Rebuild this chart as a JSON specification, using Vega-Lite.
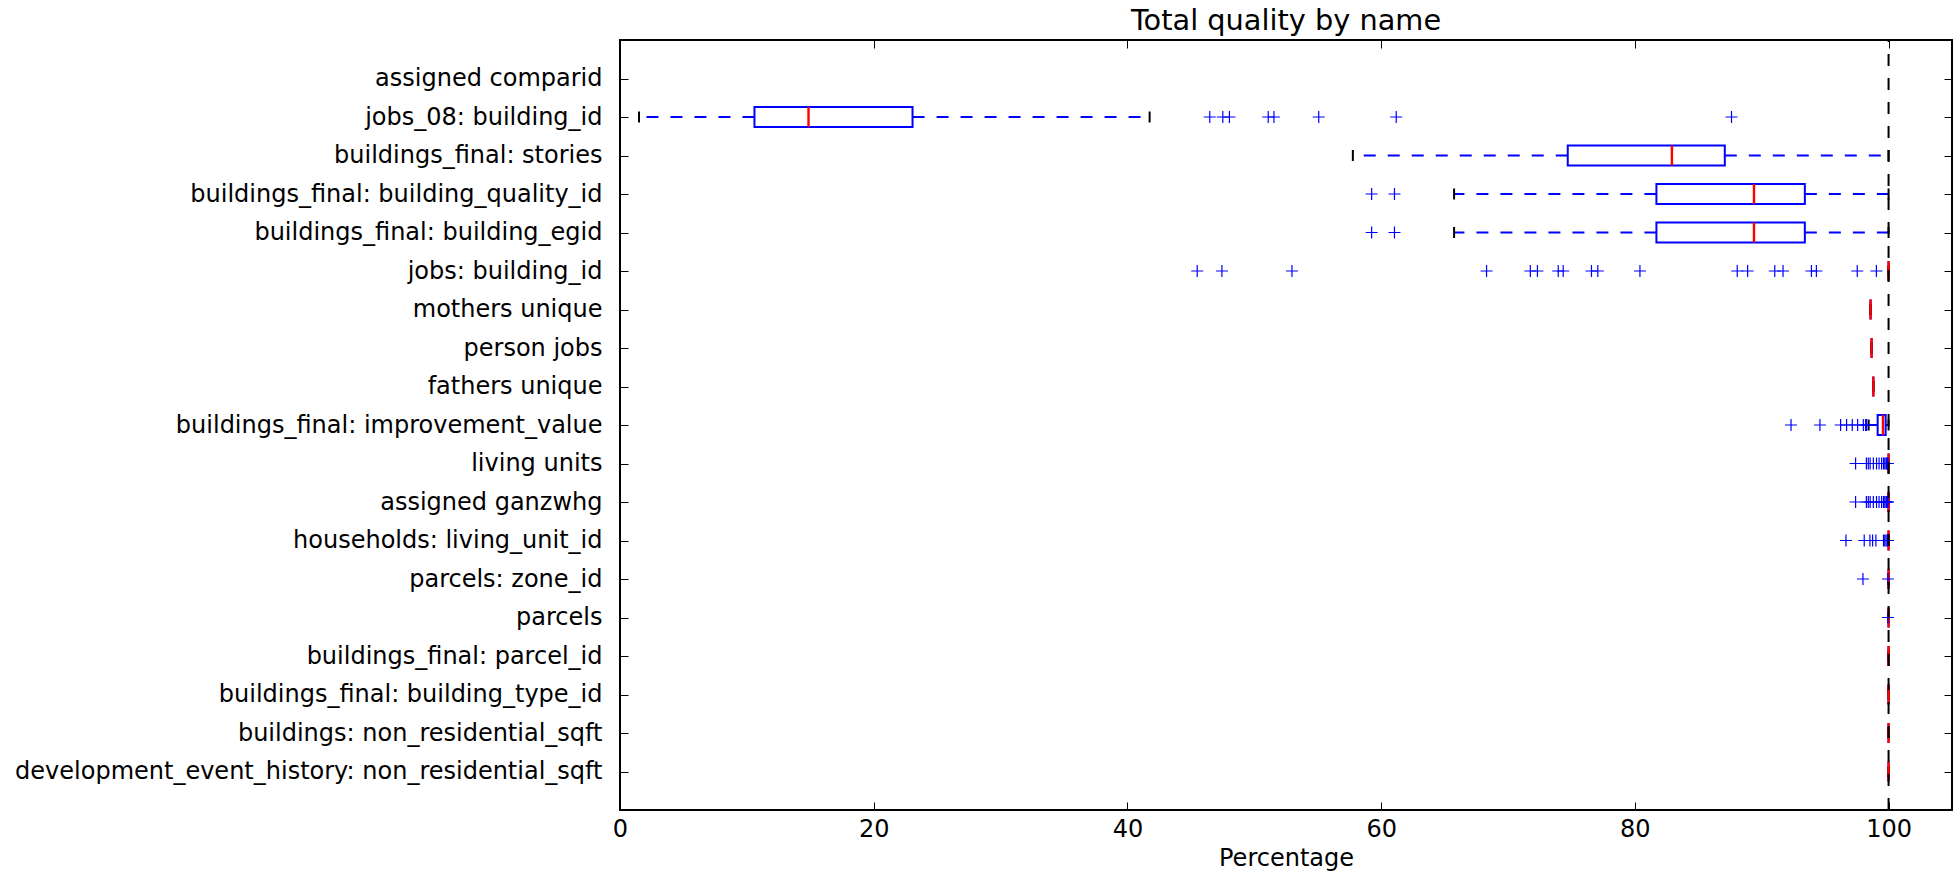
{
  "$schema": "https://vega.github.io/schema/vega-lite/v6.json",
  "width": 1332,
  "height": 770,
  "autosize": {"type": "none"},
  "padding": {"left": 620, "top": 40, "right": 1, "bottom": 62},
  "background": "white",
  "title": {"text": "Total quality by name", "font": "DejaVu Sans", "fontSize": 28.8, "fontWeight": "normal", "color": "black", "frame": "group", "anchor": "middle", "offset": -20, "baseline": "alphabetic"},
  "config": {
    "view": {"stroke": "black", "strokeWidth": 2},
    "axis": {"grid": false, "domain": false, "tickColor": "black", "tickWidth": 1, "labelFont": "DejaVu Sans", "labelFontSize": 24, "labelColor": "black", "titleFont": "DejaVu Sans", "titleFontSize": 24, "titleFontWeight": "normal", "titleColor": "black"}
  },
  "datasets": {
    "boxes": [
      {"name": "jobs_08: building_id", "lower": 1.5, "q1": 10.6, "median": 14.86, "q3": 23.06, "upper": 41.75},
      {"name": "buildings_final: stories", "lower": 57.77, "q1": 74.71, "median": 82.92, "q3": 87.09, "upper": 100},
      {"name": "buildings_final: building_quality_id", "lower": 65.75, "q1": 81.7, "median": 89.39, "q3": 93.4, "upper": 100},
      {"name": "buildings_final: building_egid", "lower": 65.75, "q1": 81.7, "median": 89.39, "q3": 93.4, "upper": 100},
      {"name": "jobs: building_id", "lower": 100, "q1": 100, "median": 100, "q3": 100, "upper": 100},
      {"name": "mothers unique", "lower": 98.58, "q1": 98.58, "median": 98.58, "q3": 98.58, "upper": 98.58},
      {"name": "person jobs", "lower": 98.66, "q1": 98.66, "median": 98.66, "q3": 98.66, "upper": 98.66},
      {"name": "fathers unique", "lower": 98.8, "q1": 98.8, "median": 98.8, "q3": 98.8, "upper": 98.8},
      {"name": "buildings_final: improvement_value", "lower": 98.43, "q1": 99.14, "median": 99.56, "q3": 99.77, "upper": 100},
      {"name": "living units", "lower": 100, "q1": 100, "median": 100, "q3": 100, "upper": 100},
      {"name": "assigned ganzwhg", "lower": 100, "q1": 100, "median": 100, "q3": 100, "upper": 100},
      {"name": "households: living_unit_id", "lower": 100, "q1": 100, "median": 100, "q3": 100, "upper": 100},
      {"name": "parcels: zone_id", "lower": 100, "q1": 100, "median": 100, "q3": 100, "upper": 100},
      {"name": "parcels", "lower": 100, "q1": 100, "median": 100, "q3": 100, "upper": 100},
      {"name": "buildings_final: parcel_id", "lower": 100, "q1": 100, "median": 100, "q3": 100, "upper": 100},
      {"name": "buildings_final: building_type_id", "lower": 100, "q1": 100, "median": 100, "q3": 100, "upper": 100},
      {"name": "buildings: non_residential_sqft", "lower": 100, "q1": 100, "median": 100, "q3": 100, "upper": 100},
      {"name": "development_event_history: non_residential_sqft", "lower": 100, "q1": 100, "median": 100, "q3": 100, "upper": 100}
    ],
    "fliers": [
      {"name": "jobs_08: building_id", "value": 46.49},
      {"name": "jobs_08: building_id", "value": 47.52},
      {"name": "jobs_08: building_id", "value": 48.04},
      {"name": "jobs_08: building_id", "value": 51.1},
      {"name": "jobs_08: building_id", "value": 51.55},
      {"name": "jobs_08: building_id", "value": 55.08},
      {"name": "jobs_08: building_id", "value": 61.19},
      {"name": "jobs_08: building_id", "value": 87.62},
      {"name": "buildings_final: building_quality_id", "value": 59.25},
      {"name": "buildings_final: building_quality_id", "value": 61.05},
      {"name": "buildings_final: building_egid", "value": 59.25},
      {"name": "buildings_final: building_egid", "value": 61.05},
      {"name": "jobs: building_id", "value": 45.5},
      {"name": "jobs: building_id", "value": 47.45},
      {"name": "jobs: building_id", "value": 52.97},
      {"name": "jobs: building_id", "value": 68.31},
      {"name": "jobs: building_id", "value": 71.76},
      {"name": "jobs: building_id", "value": 72.32},
      {"name": "jobs: building_id", "value": 73.96},
      {"name": "jobs: building_id", "value": 74.35},
      {"name": "jobs: building_id", "value": 76.58},
      {"name": "jobs: building_id", "value": 77.08},
      {"name": "jobs: building_id", "value": 80.4},
      {"name": "jobs: building_id", "value": 88.07},
      {"name": "jobs: building_id", "value": 88.89},
      {"name": "jobs: building_id", "value": 91.03},
      {"name": "jobs: building_id", "value": 91.68},
      {"name": "jobs: building_id", "value": 93.92},
      {"name": "jobs: building_id", "value": 94.31},
      {"name": "jobs: building_id", "value": 97.53},
      {"name": "jobs: building_id", "value": 99.04},
      {"name": "buildings_final: improvement_value", "value": 92.31},
      {"name": "buildings_final: improvement_value", "value": 94.59},
      {"name": "buildings_final: improvement_value", "value": 96.22},
      {"name": "buildings_final: improvement_value", "value": 96.69},
      {"name": "buildings_final: improvement_value", "value": 97.14},
      {"name": "buildings_final: improvement_value", "value": 97.56},
      {"name": "buildings_final: improvement_value", "value": 98.01},
      {"name": "buildings_final: improvement_value", "value": 98.19},
      {"name": "buildings_final: improvement_value", "value": 98.27},
      {"name": "living units", "value": 97.4},
      {"name": "living units", "value": 98.25},
      {"name": "living units", "value": 98.4},
      {"name": "living units", "value": 98.55},
      {"name": "living units", "value": 98.8},
      {"name": "living units", "value": 99.05},
      {"name": "living units", "value": 99.25},
      {"name": "living units", "value": 99.45},
      {"name": "living units", "value": 99.6},
      {"name": "living units", "value": 99.7},
      {"name": "living units", "value": 99.8},
      {"name": "living units", "value": 99.85},
      {"name": "living units", "value": 99.9},
      {"name": "living units", "value": 99.95},
      {"name": "assigned ganzwhg", "value": 97.4},
      {"name": "assigned ganzwhg", "value": 98.25},
      {"name": "assigned ganzwhg", "value": 98.4},
      {"name": "assigned ganzwhg", "value": 98.55},
      {"name": "assigned ganzwhg", "value": 98.8},
      {"name": "assigned ganzwhg", "value": 99.05},
      {"name": "assigned ganzwhg", "value": 99.25},
      {"name": "assigned ganzwhg", "value": 99.45},
      {"name": "assigned ganzwhg", "value": 99.6},
      {"name": "assigned ganzwhg", "value": 99.7},
      {"name": "assigned ganzwhg", "value": 99.8},
      {"name": "assigned ganzwhg", "value": 99.85},
      {"name": "assigned ganzwhg", "value": 99.9},
      {"name": "assigned ganzwhg", "value": 99.95},
      {"name": "households: living_unit_id", "value": 96.64},
      {"name": "households: living_unit_id", "value": 98.08},
      {"name": "households: living_unit_id", "value": 98.53},
      {"name": "households: living_unit_id", "value": 98.74},
      {"name": "households: living_unit_id", "value": 99.0},
      {"name": "households: living_unit_id", "value": 99.6},
      {"name": "households: living_unit_id", "value": 99.7},
      {"name": "households: living_unit_id", "value": 99.8},
      {"name": "households: living_unit_id", "value": 99.9},
      {"name": "households: living_unit_id", "value": 99.95},
      {"name": "parcels: zone_id", "value": 97.98},
      {"name": "parcels: zone_id", "value": 99.95},
      {"name": "parcels", "value": 99.95}
    ],
    "ref": [{"v": 100}]
  },
  "layer": [
    {
      "data": {"name": "boxes"},
      "mark": {"type": "rule", "color": "blue", "strokeWidth": 2, "strokeDash": [12, 12]},
      "encoding": {
        "x": {"field": "q1", "type": "quantitative", "scale": {"domain": [0, 105], "nice": false, "zero": false}, "axis": null},
        "x2": {"field": "lower"},
        "y": {"field": "name", "type": "nominal", "scale": {"type": "point", "padding": 1, "domain": ["assigned comparid", "jobs_08: building_id", "buildings_final: stories", "buildings_final: building_quality_id", "buildings_final: building_egid", "jobs: building_id", "mothers unique", "person jobs", "fathers unique", "buildings_final: improvement_value", "living units", "assigned ganzwhg", "households: living_unit_id", "parcels: zone_id", "parcels", "buildings_final: parcel_id", "buildings_final: building_type_id", "buildings: non_residential_sqft", "development_event_history: non_residential_sqft"]}, "axis": null}
      }
    },
    {
      "data": {"name": "boxes"},
      "mark": {"type": "rule", "color": "blue", "strokeWidth": 2, "strokeDash": [12, 12]},
      "encoding": {
        "x": {"field": "q3", "type": "quantitative", "axis": null},
        "x2": {"field": "upper"},
        "y": {"field": "name", "type": "nominal", "axis": null}
      }
    },
    {
      "data": {"name": "boxes"},
      "mark": {"type": "bar", "stroke": "blue", "strokeWidth": 2, "fillOpacity": 0, "size": 20},
      "encoding": {
        "x": {"field": "q1", "type": "quantitative", "axis": {"orient": "bottom", "values": [0, 20, 40, 60, 80, 100], "tickSize": -8, "labelPadding": 15, "labelFlush": false, "title": "Percentage", "titlePadding": 5}},
        "x2": {"field": "q3"},
        "y": {"field": "name", "type": "nominal", "axis": {"orient": "left", "tickSize": -8, "labelPadding": 26, "labelLimit": 1000, "title": null}}
      }
    },
    {
      "data": {"name": "boxes"},
      "mark": {"type": "tick", "orient": "vertical", "color": "black", "size": 11, "thickness": 2, "opacity": 1},
      "encoding": {
        "x": {"field": "lower", "type": "quantitative", "axis": null},
        "y": {"field": "name", "type": "nominal", "axis": null}
      }
    },
    {
      "data": {"name": "boxes"},
      "mark": {"type": "tick", "orient": "vertical", "color": "black", "size": 11, "thickness": 2, "opacity": 1},
      "encoding": {
        "x": {"field": "upper", "type": "quantitative", "axis": null},
        "y": {"field": "name", "type": "nominal", "axis": null}
      }
    },
    {
      "data": {"name": "boxes"},
      "mark": {"type": "tick", "orient": "vertical", "color": "red", "size": 20, "thickness": 2.4, "opacity": 1},
      "encoding": {
        "x": {"field": "median", "type": "quantitative", "axis": null},
        "y": {"field": "name", "type": "nominal", "axis": null}
      }
    },
    {
      "data": {"name": "fliers"},
      "mark": {"type": "point", "shape": "M-1,0L1,0M0,-1L0,1", "filled": false, "stroke": "blue", "strokeWidth": 1.2, "size": 144, "opacity": 1},
      "encoding": {
        "x": {"field": "value", "type": "quantitative", "axis": {"orient": "top", "values": [0, 20, 40, 60, 80, 100], "tickSize": -8, "labels": false, "title": null}},
        "y": {"field": "name", "type": "nominal", "axis": {"orient": "right", "tickSize": -8, "labels": false, "title": null}}
      }
    },
    {
      "data": {"name": "ref"},
      "mark": {"type": "rule", "color": "black", "strokeWidth": 2, "strokeDash": [12, 12], "strokeDashOffset": 10},
      "encoding": {
        "x": {"field": "v", "type": "quantitative", "axis": null}
      }
    }
  ]
}
